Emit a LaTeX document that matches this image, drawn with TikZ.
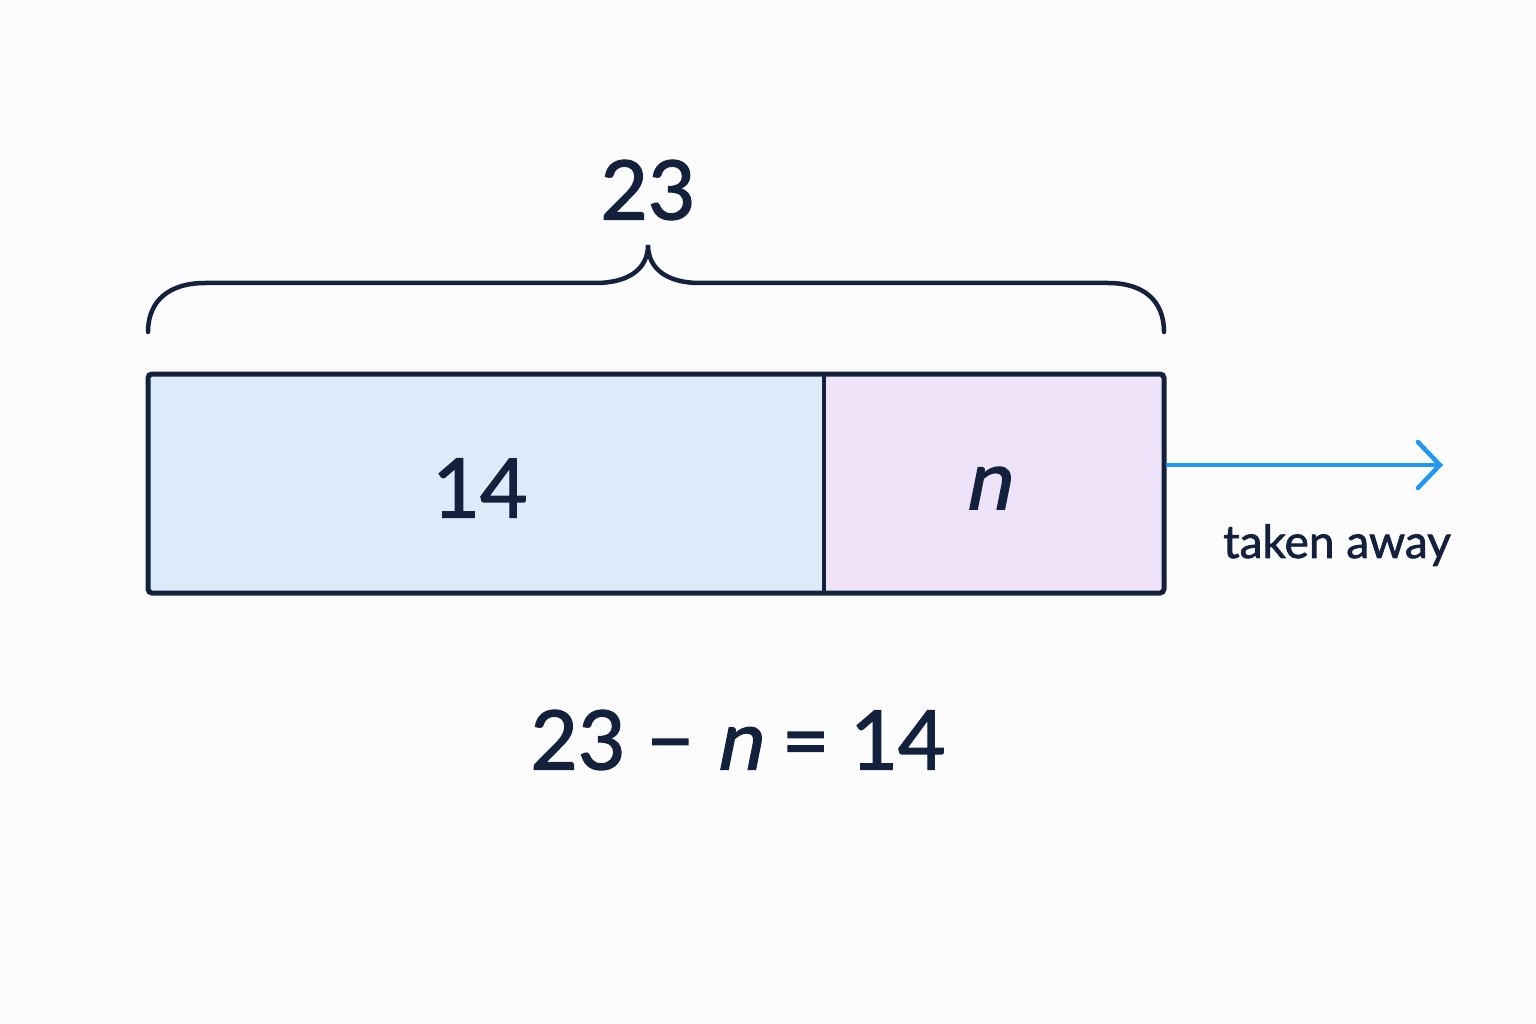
\documentclass[tikz,border=0pt]{standalone}
\usepackage{fontspec}
\setmainfont{Lato}[FakeBold=1.6,AutoFakeBold=1.6]
\newfontfamily\semi{Lato}[FakeBold=1.6,AutoFakeSlant=0.2,ItalicFeatures={FakeBold=1.6}]
\usetikzlibrary{arrows.meta}
\definecolor{ink}{HTML}{14213D}
\definecolor{lb}{HTML}{DCEBFA}
\definecolor{lp}{HTML}{EFE3FA}
\definecolor{bl}{HTML}{2196F3}
\begin{document}
\begin{tikzpicture}[x=1pt,y=-1pt,
  lab/.style={text=ink,font=\semi\fontsize{82}{90}\selectfont},
  box/.style={draw=ink,line width=5pt,rounded corners=4pt}]
\useasboundingbox[fill=white!98!gray] (0,0) rectangle (1536,1024);
\fill[lb,rounded corners=4pt] (148,374) rectangle (824,593);
\fill[lp,rounded corners=4pt] (824,374) rectangle (1164,593);
\node[box,minimum width=1016pt,minimum height=219pt,anchor=north west,outer sep=0pt] (bar) at (148,374) {};
\coordinate (dt) at (824,374); \coordinate (db) at (824,593);
\draw[ink,line width=4.5pt] (dt) -- (db);
\node[lab] (a) at (480,488) {14};
\node[lab] (b) at (987,488) {\itshape n};
\node[lab] (t) at (648,190) {23};
\draw[ink,line width=4.5pt,line cap=round] (148,332) .. controls (148,300) and (170,283) .. (205,283) -- (595,283) .. controls (630,283) and (648,268) .. (648,245) .. controls (648,268) and (666,283) .. (700,283) -- (1108,283) .. controls (1143,283) and (1164,300) .. (1164,332);
\coordinate (ae) at (1443,465);
\draw[bl,line width=4.5pt,-{Straight Barb[length=22pt,width=46pt,line width=4.5pt,line cap=round]}] (1166,465) -- (ae);
\node[text=ink,font=\semi\fontsize{46}{50}\selectfont] (tk) at (1337,545) {taken away};
\node[lab] (eq) at (738,740) {23 − \itshape n\upshape{} = 14};
\end{tikzpicture}
\end{document}
